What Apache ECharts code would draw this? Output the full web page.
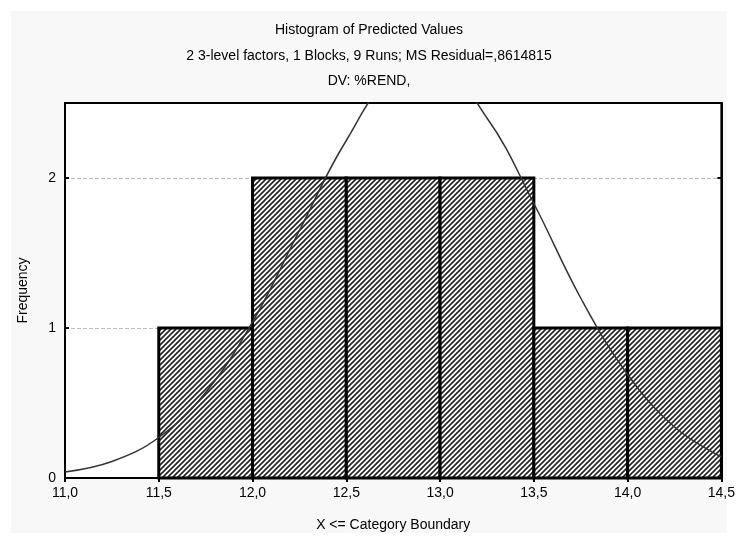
<!DOCTYPE html>
<html>
<head>
<meta charset="utf-8">
<script src="https://cdn.jsdelivr.net/npm/echarts@6/dist/echarts.min.js"></script>
<style>
  html, body { margin: 0; padding: 0; background: #fff; }
  #chart { width: 738px; height: 537px; }
</style>
</head>
<body>
<div id="chart"></div>
<script>
// bins of the histogram: lower edge, upper edge, count
var binLow = [11.5, 12.0, 12.5, 13.0, 13.5, 14.0];
var binHigh = [12.0, 12.5, 13.0, 13.5, 14.0, 14.5];
var binCount = [1, 2, 2, 2, 1, 1];

// expected normal curve
var curveX = [11.0, 11.25, 11.5, 11.75, 12.0, 12.25, 12.5, 12.75, 13.0, 13.25, 13.5, 13.75, 14.0, 14.25, 14.5];
var curveY = [0.04, 0.11, 0.27, 0.57, 1.04, 1.65, 2.25, 2.66, 2.71, 2.40, 1.83, 1.20, 0.69, 0.34, 0.14];

var yTicks = [0, 1, 2];

var titles = ['Histogram of Predicted Values',
    '2 3-level factors, 1 Blocks, 9 Runs; MS Residual=,8614815',
    'DV: %REND,'];

var FONT = '"Liberation Sans", Arial, sans-serif';

// hatch pattern for the bars
function makeHatch() {
    var s = 5;
    var c = document.createElement('canvas');
    c.width = s; c.height = s;
    var g = c.getContext('2d');
    g.fillStyle = '#fff';
    g.fillRect(0, 0, s, s);
    g.strokeStyle = '#222';
    g.lineWidth = 1.6;
    g.beginPath();
    g.moveTo(-1, s + 1); g.lineTo(s + 1, -1);
    g.moveTo(-1, 1); g.lineTo(1, -1);
    g.moveTo(s - 1, s + 1); g.lineTo(s + 1, s - 1);
    g.stroke();
    return c;
}
var hatch = makeHatch();

var barData = binLow.map(function (lo, i) { return [lo, binHigh[i], binCount[i]]; });
var curveData = curveX.map(function (x, i) { return [x, curveY[i]]; });

var myChart = echarts.init(document.getElementById('chart'));
var option = {
    backgroundColor: '#fff',
    animation: false,
    textStyle: { fontFamily: FONT, color: '#000' },
    graphic: [{
        type: 'rect',
        z: -10,
        shape: { x: 11, y: 11, width: 716, height: 522 },
        style: { fill: '#f8f8f8' }
    }],
    title: titles.map(function (t, i) {
        return {
            text: t,
            left: 'center',
            top: [23, 49, 74][i],
            padding: 0,
            textStyle: { fontFamily: FONT, fontSize: 14, fontWeight: 'normal', color: '#000' }
        };
    }),
    grid: {
        left: 65, right: 16, top: 103, bottom: 59,
        show: true,
        backgroundColor: '#fff',
        borderColor: '#000',
        borderWidth: 2
    },
    xAxis: [{
        type: 'value',
        min: 11, max: 14.5, interval: 0.5,
        name: 'X <= Category Boundary',
        nameLocation: 'middle',
        nameGap: 40,
        nameTextStyle: { fontFamily: FONT, fontSize: 14, color: '#000' },
        axisLine: { lineStyle: { color: '#000', width: 2 } },
        axisTick: { inside: true, length: 4, lineStyle: { color: '#000', width: 2 } },
        axisLabel: {
            fontFamily: FONT, fontSize: 14, color: '#000', margin: 8,
            formatter: function (v) { return v.toFixed(1).replace('.', ','); }
        },
        splitLine: { show: false }
    }, {
        type: 'value', position: 'top',
        min: 11, max: 14.5, interval: 0.5,
        axisLine: { lineStyle: { color: '#000', width: 2 } },
        axisTick: { inside: true, length: 4, lineStyle: { color: '#000', width: 2 } },
        axisLabel: { show: false },
        splitLine: { show: false }
    }],
    yAxis: [{
        type: 'value',
        min: 0, max: 2.5, interval: 1,
        name: 'Frequency',
        nameLocation: 'middle',
        nameGap: 35,
        nameTextStyle: { fontFamily: FONT, fontSize: 14, color: '#000' },
        axisLine: { show: true, lineStyle: { color: '#000', width: 2 } },
        axisTick: { show: true, inside: true, length: 4, lineStyle: { color: '#000', width: 2 } },
        axisLabel: {
            fontFamily: FONT, fontSize: 14, color: '#000', margin: 9,
            showMaxLabel: false,
            formatter: function (v) { return yTicks.indexOf(v) >= 0 ? String(v) : ''; }
        },
        splitLine: {
            show: true, showMinLine: false, showMaxLine: false,
            lineStyle: { color: '#bbb', type: 'dashed', width: 1 }
        }
    }, {
        type: 'value', position: 'right',
        min: 0, max: 2.5, interval: 1,
        axisLine: { show: true, lineStyle: { color: '#000', width: 2 } },
        axisTick: { show: true, inside: true, length: 4, lineStyle: { color: '#000', width: 2 } },
        axisLabel: { show: false },
        splitLine: { show: false }
    }],
    series: [{
        type: 'custom',
        xAxisIndex: 0, yAxisIndex: 0,
        data: barData,
        renderItem: function (params, api) {
            var p0 = api.coord([api.value(0), 0]);
            var p1 = api.coord([api.value(1), api.value(2)]);
            return {
                type: 'rect',
                shape: { x: p0[0], y: p1[1], width: p1[0] - p0[0], height: p0[1] - p1[1] },
                style: { fill: { image: hatch, repeat: 'repeat' }, stroke: '#000', lineWidth: 3 }
            };
        },
        z: 2
    }, {
        type: 'line',
        xAxisIndex: 0, yAxisIndex: 0,
        data: curveData,
        smooth: 0.4,
        showSymbol: false,
        clip: true,
        lineStyle: { color: '#333', width: 1.5 },
        z: 3
    }]
};
myChart.setOption(option);
</script>
</body>
</html>
